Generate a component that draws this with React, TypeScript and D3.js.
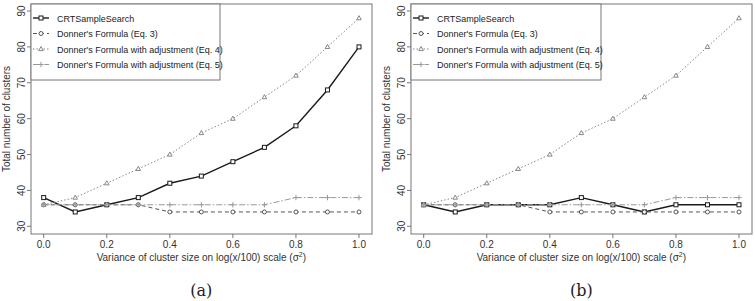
import React from "react";
import * as d3 from "d3";

const xValues = [0, 0.1, 0.2, 0.3, 0.4, 0.5, 0.6, 0.7, 0.8, 0.9, 1.0];
const crtA = [38, 34, 36, 38, 42, 44, 48, 52, 58, 68, 80];
const crtB = [36, 34, 36, 36, 36, 38, 36, 34, 36, 36, 36];
const eq3 = [36, 36, 36, 36, 34, 34, 34, 34, 34, 34, 34];
const eq4 = [36, 38, 42, 46, 50, 56, 60, 66, 72, 80, 88];
const eq5 = [36, 36, 36, 36, 36, 36, 36, 36, 38, 38, 38];
const xTicks = [0, 0.2, 0.4, 0.6, 0.8, 1.0];
const yTicks = [30, 40, 50, 60, 70, 80, 90];
const legendLabels = [
  "CRTSampleSearch",
  "Donner's Formula (Eq. 3)",
  "Donner's Formula with adjustment (Eq. 4)",
  "Donner's Formula with adjustment (Eq. 5)",
];

type Style = { color: string; dash: string; marker: string; width: number };
const styles: Style[] = [
  { color: "#1a1a1a", dash: "", marker: "square", width: 1.4 },
  { color: "#555", dash: "4,3", marker: "circle", width: 1 },
  { color: "#888", dash: "1.5,2", marker: "triangle", width: 1 },
  { color: "#999", dash: "6,2,1.5,2", marker: "plus", width: 1 },
];

function Marker({ x, y, kind, color }: { x: number; y: number; kind: string; color: string }) {
  if (kind === "square")
    return <rect x={x - 2} y={y - 2} width={4} height={4} fill="white" stroke={color} strokeWidth={1} />;
  if (kind === "circle") return <circle cx={x} cy={y} r={2} fill="white" stroke={color} strokeWidth={1} />;
  if (kind === "triangle")
    return (
      <path
        d={`M${x},${y - 2.5}L${x + 2.3},${y + 1.6}L${x - 2.3},${y + 1.6}Z`}
        fill="white"
        stroke={color}
        strokeWidth={1}
      />
    );
  return <path d={`M${x - 2.7},${y}H${x + 2.7}M${x},${y - 2.7}V${y + 2.7}`} stroke={color} strokeWidth={1} />;
}

function Panel({ ox, crt, label }: { ox: number; crt: number[]; label: string }) {
  const boxL = ox + 31;
  const boxR = ox + 372;
  const boxT = 4;
  const boxB = 234;
  const x = d3.scaleLinear().domain([0, 1]).range([ox + 43.7, ox + 359]);
  const y = d3.scaleLinear().domain([30, 90]).range([226.3, 11]);
  const series = [crt, eq3, eq4, eq5];
  const line = d3
    .line<number>()
    .x((_, i) => x(xValues[i]))
    .y((d) => y(d));
  const axisColor = "#777";
  const font = "'Liberation Sans', Arial, sans-serif";
  return (
    <g>
      <rect x={boxL} y={boxT} width={boxR - boxL} height={boxB - boxT} fill="none" stroke={axisColor} strokeWidth={1} />
      {yTicks.map((t) => (
        <g key={t}>
          <line x1={boxL} x2={boxL - 4} y1={y(t)} y2={y(t)} stroke={axisColor} />
          <text
            transform={`translate(${ox + 24.5},${y(t)}) rotate(-90)`}
            textAnchor="middle"
            fontSize={10}
            fontFamily={font}
            fill="#333"
          >
            {t}
          </text>
        </g>
      ))}
      {xTicks.map((t) => (
        <g key={t}>
          <line x1={x(t)} x2={x(t)} y1={boxB} y2={boxB + 4} stroke={axisColor} />
          <text x={x(t)} y={boxB + 14} textAnchor="middle" fontSize={10} fontFamily={font} fill="#333">
            {t.toFixed(1)}
          </text>
        </g>
      ))}
      <text
        transform={`translate(${ox + 10},${(boxT + boxB) / 2}) rotate(-90)`}
        textAnchor="middle"
        fontSize={10}
        fontFamily={font}
        fill="#333"
      >
        Total number of clusters
      </text>
      <text x={(x(0) + x(1)) / 2} y={boxB + 27} textAnchor="middle" fontSize={10} fontFamily={font} fill="#333">
        Variance of cluster size on log(x/100) scale (σ<tspan dy={-4} fontSize={7}>2</tspan>
        <tspan dy={4}>)</tspan>
      </text>
      <text
        x={(x(0) + x(1)) / 2}
        y={296}
        textAnchor="middle"
        fontSize={16}
        fontFamily="'DejaVu Serif', serif"
        fill="#222"
      >
        {label}
      </text>
      {series.map((s, k) => (
        <g key={k}>
          <path
            d={line(s) || ""}
            fill="none"
            stroke={styles[k].color}
            strokeWidth={styles[k].width}
            strokeDasharray={styles[k].dash}
          />
          {s.map((v, i) => (
            <Marker key={i} x={x(xValues[i])} y={y(v)} kind={styles[k].marker} color={styles[k].color} />
          ))}
        </g>
      ))}
      <rect x={boxL} y={boxT} width={ox === 0 ? 189 : 190} height={76} fill="white" stroke={axisColor} strokeWidth={1} />
      {legendLabels.map((lab, k) => {
        const ly = 18 + k * 15.5;
        return (
          <g key={k}>
            <line
              x1={ox + 33}
              x2={ox + 49}
              y1={ly}
              y2={ly}
              stroke={styles[k].color}
              strokeWidth={styles[k].width}
              strokeDasharray={styles[k].dash}
            />
            <Marker x={ox + 41} y={ly} kind={styles[k].marker} color={styles[k].color} />
            <text x={ox + 57} y={ly + 3.5} fontSize={9} fontFamily={font} fill="#222">
              {lab}
            </text>
          </g>
        );
      })}
    </g>
  );
}

export default function App() {
  return (
    <svg width={755} height={301} style={{ position: "absolute", left: 0, top: 0, background: "white" }}>
      <rect width={755} height={301} fill="white" />
      <Panel ox={0} crt={crtA} label="(a)" />
      <Panel ox={380} crt={crtB} label="(b)" />
    </svg>
  );
}
